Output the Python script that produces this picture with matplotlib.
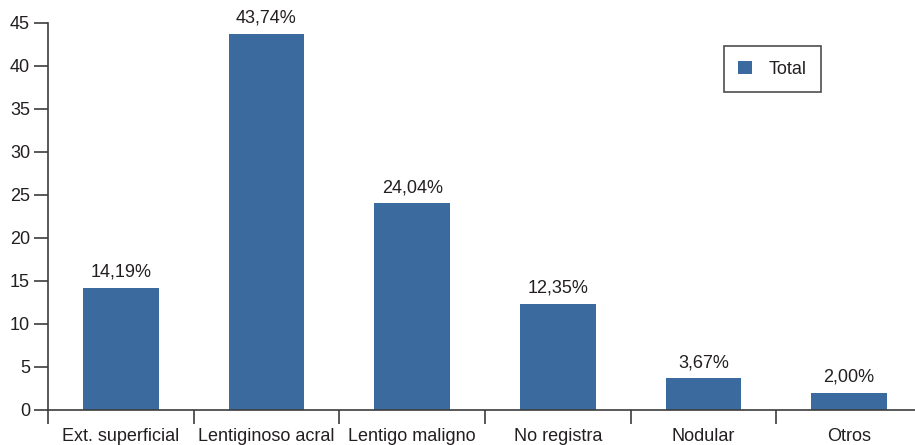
import numpy as np
import matplotlib
matplotlib.use('Agg')
import matplotlib.pyplot as plt
from matplotlib.ticker import FixedLocator, NullFormatter

plt.rcParams['font.family'] = ['Liberation Sans', 'DejaVu Sans']

categories = ['Ext. superficial', 'Lentiginoso acral', 'Lentigo maligno',
              'No registra', 'Nodular', 'Otros']
values = [14.19, 43.74, 24.04, 12.35, 3.67, 2.00]
value_labels = ['14,19%', '43,74%', '24,04%', '12,35%', '3,67%', '2,00%']
yticks = [0, 5, 10, 15, 20, 25, 30, 35, 40, 45]

bar_color = '#3b6b9e'
text_color = '#231f20'
axis_color = '#3c3c3c'
fs = 13

fig = plt.figure(figsize=(9.15, 4.45), dpi=100)
ax = fig.add_axes([0.0525, 0.0787, 0.955, 0.8697])

x = np.arange(len(categories))
bars = ax.bar(x, values, width=0.52, color=bar_color, label='Total', zorder=2)

# value labels above each bar
for b, lab in zip(bars, value_labels):
    ax.annotate(lab, (b.get_x() + b.get_width() / 2, b.get_height()),
                xytext=(0, 5), textcoords='offset points',
                ha='center', va='bottom', fontsize=fs, color=text_color)

ax.set_xlim(-0.5, len(categories) - 0.5)
ax.set_ylim(0, 45)
ax.set_yticks(yticks)

# major ticks sit between categories, names go on unmarked minor ticks
ax.xaxis.set_major_locator(FixedLocator(np.arange(len(categories) + 1) - 0.5))
ax.xaxis.set_major_formatter(NullFormatter())
ax.xaxis.set_minor_locator(FixedLocator(x))
ax.set_xticklabels(categories, minor=True)
ax.tick_params(axis='x', which='major', length=10, width=1.2, color=axis_color, direction='out')
ax.tick_params(axis='x', which='minor', length=0, pad=13, labelsize=fs, labelcolor=text_color)
ax.tick_params(axis='y', length=10, width=1.2, color=axis_color, direction='out',
               labelsize=fs, labelcolor=text_color, pad=3)

for side in ['top', 'right']:
    ax.spines[side].set_visible(False)
for side in ['left', 'bottom']:
    ax.spines[side].set_color(axis_color)
    ax.spines[side].set_linewidth(1.2)

leg = ax.legend(loc='upper left', bbox_to_anchor=(0.773, 0.94), fontsize=fs,
                frameon=True, fancybox=False, edgecolor='#231f20',
                handlelength=0.8, handleheight=0.8, handletextpad=0.9,
                borderpad=0.8, borderaxespad=0)
leg.get_frame().set_linewidth(1.2)
for t in leg.get_texts():
    t.set_color(text_color)

fig.savefig('out.png', dpi=100)
